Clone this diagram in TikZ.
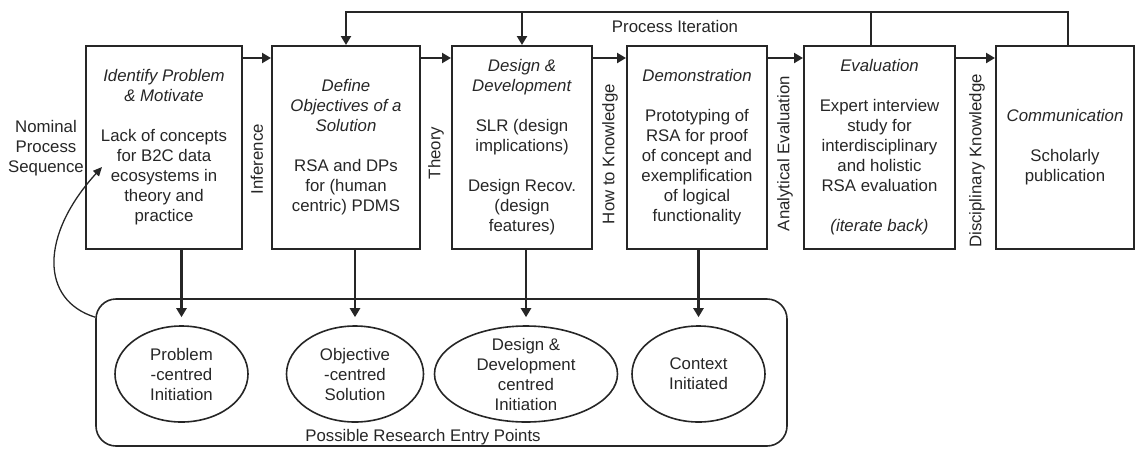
\documentclass[tikz,border=0pt]{standalone}
\usepackage{fontspec}
\setmainfont{Liberation Sans}
\usetikzlibrary{arrows.meta,shapes.geometric}

\begin{document}
\begin{tikzpicture}[
  x=1pt,
  y=-1pt,
  color=black!85,
  line join=miter,
  font=\fontsize{16.8}{20}\selectfont,
  stage/.style={draw,line width=2pt,minimum height=203pt,inner sep=0pt,align=center},
  flow/.style={draw,line width=2.5pt,-{Triangle[length=9pt,width=10pt]}},
  iter/.style={draw,line width=2.5pt},
  entry/.style={draw,line width=1.6pt,rounded corners=20pt,minimum width=691pt,minimum height=147pt},
  entrypt/.style={ellipse,draw,line width=1.6pt,minimum height=96pt,inner sep=0pt,align=center},
  sidelabel/.style={rotate=90,inner sep=0pt},
  feedback/.style={draw,line width=1.3pt,-{Triangle[length=9pt,width=8pt]}}
]
  \useasboundingbox (0,0) rectangle (1135,448);

  % Process stages, left to right.
  \node[stage,minimum width=156pt] (ident) at (164,147.5)
    {\textit{Identify Problem}\\\textit{\& Motivate}\\[20pt]Lack of concepts\\for B2C data\\ecosystems in\\theory and\\practice};
  \node[stage,minimum width=148pt] (define) at (346,147.5)
    {\textit{Define}\\\textit{Objectives of a}\\\textit{Solution}\\[20pt]RSA and DPs\\for (human\\centric) PDMS};
  \node[stage,minimum width=140pt] (design) at (522,147.5)
    {\textit{Design \&}\\\textit{Development}\\[20pt]SLR (design\\implications)\\[20pt]Design Recov.\\(design\\features)};
  \node[stage,minimum width=140pt] (demo) at (697,147.5)
    {\textit{Demonstration}\\[20pt]Prototyping of\\RSA for proof\\of concept and\\exemplification\\of logical\\functionality};
  \node[stage,minimum width=151pt] (eval) at (879.5,147.5)
    {\textit{Evaluation}\\[20pt]Expert interview\\study for\\interdisciplinary\\and holistic\\RSA evaluation\\[20pt]\textit{(iterate back)}};
  \node[stage,minimum width=138pt] (comm) at (1065,147.5)
    {\textit{Communication}\\[20pt]Scholarly\\publication};

  % Nominal sequence arrows and the knowledge labels between stages.
  \foreach \a/\b in {ident/define,define/design,design/demo,demo/eval,eval/comm}
    \draw[flow] ([yshift=-13pt]\a.north east) -- ([yshift=-13pt]\b.north west);
  \node[sidelabel] (inference) at (257,159) {Inference};
  \node[sidelabel] (theory) at (436,153) {Theory};
  \node[sidelabel] (howto) at (610,154) {How to Knowledge};
  \node[sidelabel] (analytic) at (785,153.5) {Analytical Evaluation};
  \node[sidelabel] (discip) at (977,161) {Disciplinary Knowledge};
  \node[align=center] (nominal) at (46,148) {Nominal\\Process\\Sequence};

  % Iteration loop along the top.
  \coordinate (topbar) at (0,12);
  \draw[flow] ([xshift=3pt]comm.north) |- (topbar -| define.north) -- (define.north);
  \draw[iter] ([xshift=-8.5pt]eval.north) -- ([xshift=-8.5pt]eval.north |- topbar);
  \draw[flow] (topbar -| design.north) -- (design.north);
  \node (iterlabel) at (675,26) {Process Iteration};

  % Possible entry points.
  \node[entry] (entries) at (441.5,372.5) {};
  \node[entrypt,minimum width=133pt] (probinit) at (181.5,374) {Problem\\-centred\\Initiation};
  \node[entrypt,minimum width=137pt] (objsol) at (355,374) {Objective\\-centred\\Solution};
  \node[entrypt,minimum width=183pt,inner ysep=-6pt] (desinit) at (526,374) {Design \&\\Development\\centred\\Initiation};
  \node[entrypt,minimum width=133pt] (ctxinit) at (698.5,374) {Context\\Initiated};
  \node (entrylabel) at (423,437) {Possible Research Entry Points};

  \draw[flow,shorten >=8pt] (probinit.north |- ident.south) -- (probinit.north);
  \draw[flow,shorten >=8pt] (objsol.north |- define.south) -- (objsol.north);
  \draw[flow,shorten >=8pt] (desinit.north |- design.south) -- (desinit.north);
  \draw[flow,shorten >=8pt] (ctxinit.north |- demo.south) -- (ctxinit.north);

  % Entry back into the nominal sequence.
  \coordinate (seqtip) at (102,167);
  \draw[feedback] ([yshift=-19pt]entries.north west) .. controls (40,300) and (40,235) .. (seqtip);
\end{tikzpicture}
\end{document}
